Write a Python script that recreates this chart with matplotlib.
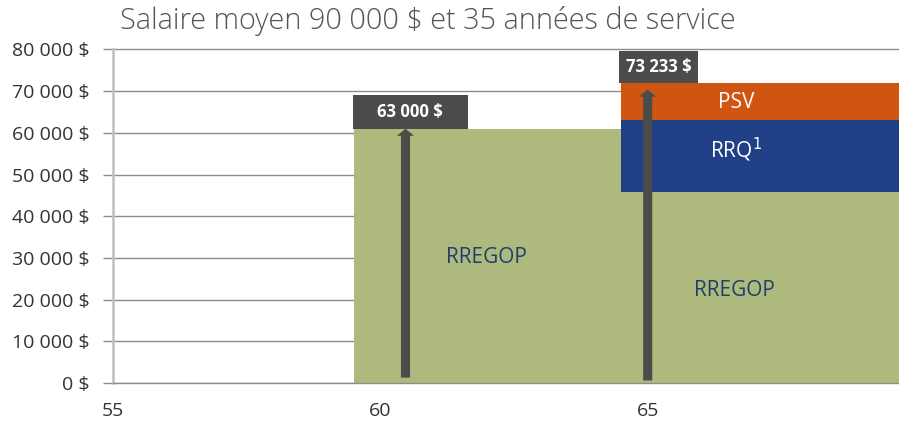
import matplotlib
matplotlib.use("Agg")
import matplotlib.pyplot as plt
from matplotlib.patches import FancyArrow

plt.rcParams['font.family'] = ['Open Sans', 'DejaVu Sans']

# Data
x_min, x_max = 55, 69.7
x_ticks = [55, 60, 65]
y_ticks = [0, 10000, 20000, 30000, 40000, 50000, 60000, 70000, 80000]
y_tick_labels = ["0 $", "10 000 $", "20 000 $", "30 000 $", "40 000 $",
                 "50 000 $", "60 000 $", "70 000 $", "80 000 $"]

seg_start = [59.5, 64.5]
seg_width = [5.0, 5.5]
rregop = [61000, 45700]
rrq = [0, 17500]
psv = [0, 8800]

arrow_x = [60.47, 65.0]
arrow_bottom = [1300, 600]
arrow_top = [61000, 70400]
total_labels = ["63 000 $", "73 233 $"]
box_x = [59.48, 64.46]
box_w = [2.15, 1.49]
box_y = [61000, 72000]
box_h = [8000, 7600]

title = "Salaire moyen 90 000 $ et 35 années de service"

green = "#AEB97D"
blue = "#1F3F86"
orange = "#CF5511"
dark = "#4B4C49"
label_blue = "#1F3F6E"

y_top = 80300
px_per_unit = (383 - 49.5) / 80000

fig = plt.figure(figsize=(8.99, 4.25), dpi=100)
ax_h = (383 - 49.5) * y_top / 80000
ax = fig.add_axes([113/899, 1-383/425, 1-113/899, ax_h/425])

ax.bar(seg_start, rregop, width=seg_width, align='edge', color=green, zorder=2)
ax.bar(seg_start[1], rrq[1], width=seg_width[1], bottom=rregop[1], align='edge', color=blue, zorder=2)
ax.bar(seg_start[1], psv[1], width=seg_width[1], bottom=rregop[1]+rrq[1], align='edge', color=orange, zorder=2)

# label boxes
ax.bar(box_x, box_h, width=box_w, bottom=box_y, align='edge', color=dark, zorder=3)
for bx, bw, by, bh, lab in zip(box_x, box_w, box_y, box_h, total_labels):
    ax.text(bx + bw/2, by + bh/2, lab, color='white',
            fontsize=12, fontweight='bold', ha='center', va='center', zorder=5)

# arrows
for xa, yb, yt in zip(arrow_x, arrow_bottom, arrow_top):
    ax.add_patch(FancyArrow(xa, yb, 0, yt - yb, width=0.17, head_width=0.32,
                            head_length=1700, length_includes_head=True,
                            color=dark, zorder=4, linewidth=0))

# series labels
ax.text(61.99, 30000, "RREGOP", color=label_blue, fontsize=15, ha='center', va='center', zorder=5)
ax.text(66.63, 22300, "RREGOP", color=label_blue, fontsize=15, ha='center', va='center', zorder=5)
ax.text(66.66, 67300, "PSV", color='white', fontsize=15, ha='center', va='center', zorder=5)
ax.text(66.66, 55800, "RRQ$^1$", color='white', fontsize=15, ha='center', va='center', zorder=5)

ax.set_xlim(x_min, x_max)
ax.set_ylim(0, y_top)
ax.set_xticks(x_ticks)
ax.set_xticklabels([str(t) for t in x_ticks])
ax.set_yticks(y_ticks)
ax.set_yticklabels(y_tick_labels)
ax.grid(axis='y', color='#8c8c8c', linewidth=1.0, zorder=0)
ax.set_axisbelow(True)
for s in ['top', 'right']:
    ax.spines[s].set_visible(False)
ax.spines['left'].set_color('#bfbfbf')
ax.spines['left'].set_linewidth(1.8)
ax.spines['left'].set_bounds(0, 80000)
ax.spines['bottom'].set_color('#8c8c8c')
ax.spines['bottom'].set_linewidth(1.0)
ax.tick_params(axis='y', length=7, color='#8c8c8c', width=1.0, pad=10, labelsize=14, labelcolor='#333333')
ax.tick_params(axis='x', length=0, pad=14, labelsize=14, labelcolor='#333333')

fig.text(428/899, 1-21/425, title, fontsize=20.8, fontweight='light', color='#555555',
         ha='center', va='center')

fig.savefig("out.png", dpi=100)
